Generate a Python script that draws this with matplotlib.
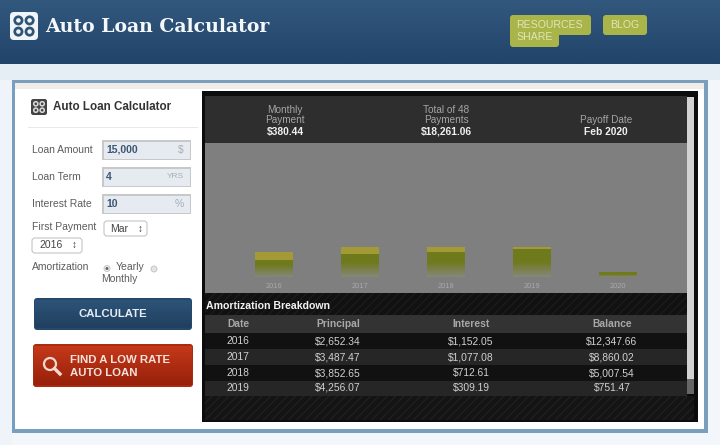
"""
Auto Loan Calculator: page mock-up with stacked yearly bars and amortization table.
"""

import numpy as np
import matplotlib
matplotlib.use('Agg')
import matplotlib.pyplot as plt
from matplotlib.patches import Rectangle, FancyBboxPatch, Circle

plt.rcParams['font.family'] = ['Liberation Sans', 'DejaVu Sans']
plt.rcParams['hatch.linewidth'] = 0.8

years     = ['2016', '2017', '2018', '2019', '2020']
principal = [2652.34, 3487.47, 3852.65, 4256.07, 751.47]
interest  = [1152.05, 1077.08, 712.61, 309.19, 6.26]

table_head = ['Date', 'Principal', 'Interest', 'Balance']
table_rows = [
    ['2016', '$2,652.34', '$1,152.05', '$12,347.66'],
    ['2017', '$3,487.47', '$1,077.08', '$8,860.02'],
    ['2018', '$3,852.65', '$712.61', '$5,007.54'],
    ['2019', '$4,256.07', '$309.19', '$751.47'],
]

OLIVE  = '#6f7a1c'
YELLOW = '#a39a35'
GRAY   = '#7f7f7f'
GREY_T = '#5c5c5c'

fig = plt.figure(figsize=(7.2, 4.45), dpi=100)
ax = fig.add_axes([0, 0, 1, 1])
ax.set_xlim(0, 720)
ax.set_ylim(445, 0)
ax.axis('off')


def rect(x0, y0, x1, y1, color, z=1, edge='none', **kw):
    ax.add_patch(Rectangle((x0, y0), x1 - x0, y1 - y0, facecolor=color,
                           edgecolor=edge, linewidth=0, zorder=z, **kw))


def rbox(x0, y0, x1, y1, color, r=3, z=3, edge='none', lw=0.8):
    ax.add_patch(FancyBboxPatch((x0 + r, y0 + r), x1 - x0 - 2 * r, y1 - y0 - 2 * r,
                                boxstyle=f'round,pad={r},rounding_size={r}',
                                facecolor=color, edgecolor=edge, linewidth=lw, zorder=z))


def vgrad(x0, y0, x1, y1, top, bottom, z=2):
    c = np.linspace(np.array(matplotlib.colors.to_rgb(top)),
                    np.array(matplotlib.colors.to_rgb(bottom)), 64)[:, None, :]
    ax.imshow(c, extent=(x0, x1, y1, y0), aspect='auto', zorder=z, interpolation='bilinear')


def icon(x0, y0, size, bg, fg, z=5):
    rbox(x0, y0, x0 + size, y0 + size, bg, r=size * 0.14, z=z)
    for i in (0.3, 0.7):
        for j in (0.3, 0.7):
            ax.add_patch(Circle((x0 + i * size, y0 + j * size), size * 0.13, facecolor=bg,
                                edgecolor=fg, linewidth=size * 0.07, zorder=z + 1))


# page background, header
rect(0, 0, 720, 445, '#f3f7fb', z=0)
vgrad(0, 0, 720, 64, '#33587d', '#21446a')
rect(0, 64, 720, 80, '#e6eef5', z=1)
rect(0, 80, 12, 445, '#eef4f9', z=1)
icon(10, 12, 28, '#eef4f8', '#2f5375')
ax.text(45, 27, 'Auto Loan Calculator', color='#f4f8fb', fontsize=13.6, fontweight='bold',
        family='DejaVu Serif', va='center', ha='left', zorder=5)

# nav buttons
rbox(510, 15, 591, 35, '#a9b548', z=3)
rbox(603, 15, 647, 35, '#a9b548', z=3)
ax.text(516, 25.5, 'RESOURCES', color='#dfe5b8', fontsize=7.6, va='center', zorder=4)
rbox(510, 29, 559, 47, '#a9b548', z=5)
ax.text(516, 37.5, 'SHARE', color='#dfe5b8', fontsize=7.6, va='center', zorder=6)
ax.text(625, 25.5, 'BLOG', color='#dfe5b8', fontsize=7.6, va='center', ha='center', zorder=4)

# main frame
rect(12, 80, 708, 433, '#7a9fbe', z=1)
rect(15, 83, 704, 429, '#ffffff', z=1.5)
rect(15, 83, 704, 89, '#f1ece8', z=1.6)

# left form
icon(31, 99, 16, '#444444', '#d8d8d8')
ax.text(53, 107, 'Auto Loan Calculator', color='#333333', fontsize=8.4, fontweight='bold',
        va='center', zorder=5)
rect(28, 126.5, 198, 128, '#e8e8e8', z=2)

inputs = [('Loan Amount', '15,000', '$', 140, 160),
          ('Loan Term', '4', 'YRS', 167, 187),
          ('Interest Rate', '10', '%', 194, 214)]
for name, val, unit, y0, y1 in inputs:
    ax.text(32, (y0 + y1) / 2, name, color=GREY_T, fontsize=7.5, va='center', zorder=5)
    rect(102, y0, 191, y1, '#c8c8c8', z=2)
    rect(103.5, y0 + 1.5, 189.5, y1 - 1.5, '#e6ebf1', z=2.5)
    ax.text(106, (y0 + y1) / 2, val, color='#3c5674', fontsize=7.5, fontweight='bold',
            va='center', zorder=5)
    ax.text(184, (y0 + y1) / 2, unit, color='#a8adb3', fontsize=7.5 if len(unit) == 1 else 6,
            va='center', ha='right', zorder=5)

ax.text(32, 227, 'First Payment', color=GREY_T, fontsize=7.5, va='center', zorder=5)
rbox(104, 221, 147, 236, '#ffffff', r=3, edge='#c4c4c4')
ax.text(110, 228.5, 'Mar', color='#444444', fontsize=7.5, va='center', zorder=5)
ax.text(140, 228.5, '\u2195', color='#333333', fontsize=7, va='center', ha='center', zorder=5)
rbox(32, 238, 82, 253, '#ffffff', r=3, edge='#c4c4c4')
ax.text(39, 245.5, '2016', color='#444444', fontsize=7.5, va='center', zorder=5)
ax.text(74, 245.5, '\u2195', color='#333333', fontsize=7, va='center', ha='center', zorder=5)
ax.text(32, 267, 'Amortization', color=GREY_T, fontsize=7.5, va='center', zorder=5)
ax.add_patch(Circle((107, 268.5), 3, facecolor='#eeeeee', edgecolor='#c0c0c0', lw=0.6, zorder=4))
ax.add_patch(Circle((107, 268.5), 1.5, facecolor='#666666', zorder=5))
ax.text(116, 267, 'Yearly', color=GREY_T, fontsize=7.5, va='center', zorder=5)
ax.add_patch(Circle((154, 269), 3, facecolor='#e4e4e4', edgecolor='#c0c0c0', lw=0.6, zorder=4))
ax.text(101, 279, 'Monthly', color=GREY_T, fontsize=7.5, va='center', zorder=5)

# action buttons
rbox(34, 298, 192, 330, '#26496b', r=3)
vgrad(35, 300, 191, 328, '#2c5478', '#213f5f', z=3.5)
ax.text(113, 314, 'CALCULATE', color='#e4edf3', fontsize=8.2, fontweight='bold',
        ha='center', va='center', zorder=5)
rbox(33, 344, 193, 387, '#ab2a10', r=3)
vgrad(34, 346, 192, 385, '#c4391a', '#98200a', z=3.5)
ax.add_patch(Circle((50, 364), 6, facecolor='none', edgecolor='#f2d8cf', lw=1.6, zorder=5))
ax.plot([54.5, 60], [368.5, 374], color='#f2d8cf', lw=2.4, zorder=5)
ax.text(70, 360, 'FIND A LOW RATE', color='#f6e2da', fontsize=8.2, fontweight='bold',
        va='center', zorder=5)
ax.text(70, 372.5, 'AUTO LOAN', color='#f6e2da', fontsize=8.2, fontweight='bold',
        va='center', zorder=5)

# dark result panel
rect(202, 91, 698, 422, '#0c0c0c', z=2)
rect(205, 96, 687, 143, '#2e2e2e', z=2.2)
rect(205, 143, 687, 293, GRAY, z=2.2)
rect(205, 293, 687, 315, '#111111', z=2.2, edge='#1d1d1d', hatch='////')
rect(205, 396, 694, 420, '#141414', z=2.2, edge='#212121', hatch='////')
rect(205, 315, 687, 333, '#333333', z=2.3)
for k, (y0, y1) in enumerate([(333, 349), (349, 365), (365, 381), (381, 396)]):
    rect(205, y0, 687, y1, '#111111' if k % 2 == 0 else '#262626', z=2.3)
rect(687, 97, 694, 379, '#d2d2d2', z=2.4)
rect(687, 379, 694, 394, '#666666', z=2.4)

# summary
ax.text(285, 115, 'Monthly\nPayment', color='#a5a5a5', fontsize=7.2, ha='center', va='center',
        linespacing=1.05, zorder=5)
ax.text(285, 132, '$380.44', color='#f0f0f0', fontsize=7.4, fontweight='bold', ha='center',
        va='center', zorder=5)
ax.text(446, 115, 'Total of 48\nPayments', color='#a5a5a5', fontsize=7.2, ha='center',
        va='center', linespacing=1.05, zorder=5)
ax.text(446, 132, '$18,261.06', color='#f0f0f0', fontsize=7.4, fontweight='bold', ha='center',
        va='center', zorder=5)
ax.text(606, 120, 'Payoff Date', color='#a5a5a5', fontsize=7.2, ha='center', va='center', zorder=5)
ax.text(606, 132, 'Feb 2020', color='#f0f0f0', fontsize=7.4, fontweight='bold', ha='center',
        va='center', zorder=5)

# table
ax.text(206, 306, 'Amortization Breakdown', color='#f2f2f2', fontsize=7.6, fontweight='bold',
        va='center', zorder=5)
col_x = [238, 338, 471, 612]
for x, name in zip(col_x, table_head):
    ax.text(x, 324, name, color='#a8a8a8', fontsize=7.4, fontweight='bold', ha='center',
            va='center', zorder=5)
for y, row in zip([341, 357, 373, 388], table_rows):
    for x, val in zip(col_x, row):
        ax.text(x, y, val, color='#d0d0d0', fontsize=7.4, ha='center', va='center', zorder=5)

# bar chart, own axes over the gray area
bar_ax = fig.add_axes([205 / 720, 1 - 277 / 445, 482 / 720, 134 / 445], zorder=10)
bar_ax.patch.set_alpha(0)
x = np.arange(len(years))
b1 = bar_ax.bar(x, principal, 0.44, color=OLIVE)
b2 = bar_ax.bar(x, interest, 0.44, bottom=principal, color=YELLOW)
fade = np.zeros((64, 1, 4))
fade[:, 0, :3] = matplotlib.colors.to_rgb('#8a8a8a')
fade[:, 0, 3] = np.clip(np.linspace(-0.9, 0.85, 64), 0, 1)
for bar, p, i in zip(b1, principal, interest):
    im = bar_ax.imshow(fade, extent=(bar.get_x(), bar.get_x() + bar.get_width(), 0, p + i),
                       aspect='auto', zorder=4, interpolation='bilinear')
    im.set_clip_path(bar)
bar_ax.set_xlim(-0.802, 4.802)
bar_ax.set_ylim(0, 134 * 152)
bar_ax.set_xticks(x)
bar_ax.set_xticklabels(years, fontsize=5.4, color='#a9a9a9')
bar_ax.tick_params(axis='x', length=0, pad=4)
bar_ax.set_yticks([])
for s in bar_ax.spines.values():
    s.set_visible(False)

fig.savefig('out.png', dpi=100)
